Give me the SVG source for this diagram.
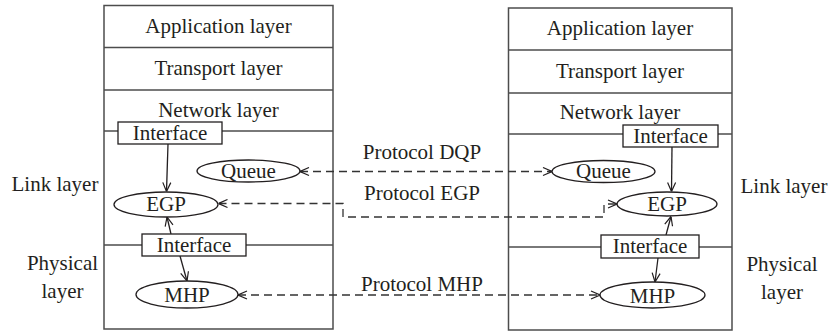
<svg xmlns="http://www.w3.org/2000/svg" width="828" height="332" viewBox="0 0 828 332">
<style>
text{font-family:"Liberation Serif","Times New Roman",serif;font-size:21px;fill:#231f20;text-anchor:middle}
.box{fill:#fff;stroke:#4d4d4d;stroke-width:1.5}
.ln{stroke:#4d4d4d;stroke-width:1.5;fill:none}
.nd{fill:#fff;stroke:#231f20;stroke-width:1.3}
.ar{stroke:#231f20;stroke-width:1.3;fill:none;marker-end:url(#ah)}
.da{stroke:#333;stroke-width:1.3;fill:none;stroke-dasharray:8,5;marker-start:url(#ahs);marker-end:url(#ah)}
</style>
<defs>
<marker id="ah" viewBox="0 0 10 10" refX="10" refY="5" markerWidth="10" markerHeight="10" markerUnits="userSpaceOnUse" orient="auto">
<path d="M1,1 L10,5 L1,9" fill="none" stroke="#231f20" stroke-width="1.2"/>
</marker>
<marker id="ahs" viewBox="0 0 10 10" refX="0" refY="5" markerWidth="10" markerHeight="10" markerUnits="userSpaceOnUse" orient="auto">
<path d="M9,1 L0,5 L9,9" fill="none" stroke="#231f20" stroke-width="1.2"/>
</marker>
</defs>

<g id="left-stack">
<rect class="box" x="104" y="5.5" width="229" height="323.5"/>
<line class="ln" x1="104" y1="47.5" x2="333" y2="47.5"/>
<line class="ln" x1="104" y1="90" x2="333" y2="90"/>
<line class="ln" x1="104" y1="131" x2="333" y2="131"/>
<line class="ln" x1="104" y1="245" x2="333" y2="245"/>
<text x="218.5" y="33">Application layer</text>
<text x="218.5" y="75">Transport layer</text>
<text x="218.5" y="117">Network layer</text>
</g>

<g id="right-stack">
<rect class="box" x="508.5" y="8" width="223.5" height="322"/>
<line class="ln" x1="508.5" y1="50" x2="732" y2="50"/>
<line class="ln" x1="508.5" y1="93" x2="732" y2="93"/>
<line class="ln" x1="508.5" y1="134" x2="732" y2="134"/>
<line class="ln" x1="508.5" y1="247" x2="732" y2="247"/>
<text x="620" y="35">Application layer</text>
<text x="620" y="78">Transport layer</text>
<text x="620" y="119">Network layer</text>
</g>

<g id="side-labels">
<text x="55" y="191">Link layer</text>
<text x="62.5" y="270">Physical</text>
<text x="62.5" y="298">layer</text>
<text x="784" y="193">Link layer</text>
<text x="782" y="271">Physical</text>
<text x="782" y="299">layer</text>
</g>

<g id="connectors">
<line class="ar" x1="168" y1="144" x2="166.5" y2="191.5"/>
<line class="ar" x1="171" y1="234" x2="167" y2="217"/>
<line class="ar" x1="180" y1="256" x2="187" y2="281"/>
<line class="ar" x1="672" y1="147" x2="671.5" y2="191.5"/>
<line class="ar" x1="666" y1="235" x2="671" y2="216.5"/>
<line class="ar" x1="658" y1="258" x2="655" y2="282"/>
<path class="da" d="M300,171.5 L552,171.5"/>
<path class="da" d="M218.5,203.5 L343,203.5 L343,217 L604,217 L604,204 L617,204"/>
<path class="da" d="M238,295 L600,295"/>
<text x="422" y="159">Protocol DQP</text>
<text x="422" y="200">Protocol EGP</text>
<text x="422" y="291">Protocol MHP</text>
</g>

<g id="left-interface-top">
<rect class="nd" x="118" y="122" width="104" height="22"/>
<text x="170" y="139.5">Interface</text>
</g>
<g id="left-queue">
<ellipse class="nd" cx="248.5" cy="171" rx="51.5" ry="11"/>
<text x="248.5" y="177.5">Queue</text>
</g>
<g id="left-egp">
<ellipse class="nd" cx="166" cy="204.5" rx="52" ry="12.5"/>
<text x="166" y="211">EGP</text>
</g>
<g id="left-interface-bottom">
<rect class="nd" x="142" y="234" width="104" height="22"/>
<text x="194" y="251.5">Interface</text>
</g>
<g id="left-mhp">
<ellipse class="nd" cx="187" cy="294.5" rx="51" ry="13.5"/>
<text x="187" y="302">MHP</text>
</g>

<g id="right-interface-top">
<rect class="nd" x="623" y="125" width="95" height="22"/>
<text x="670.5" y="142.5">Interface</text>
</g>
<g id="right-queue">
<ellipse class="nd" cx="603.5" cy="171.5" rx="51.5" ry="11"/>
<text x="603.5" y="178">Queue</text>
</g>
<g id="right-egp">
<ellipse class="nd" cx="667" cy="204" rx="50" ry="12"/>
<text x="667" y="211">EGP</text>
</g>
<g id="right-interface-bottom">
<rect class="nd" x="601" y="235" width="98" height="23"/>
<text x="650" y="253">Interface</text>
</g>
<g id="right-mhp">
<ellipse class="nd" cx="652.5" cy="295" rx="52.5" ry="13"/>
<text x="652.5" y="302.5">MHP</text>
</g>
</svg>
